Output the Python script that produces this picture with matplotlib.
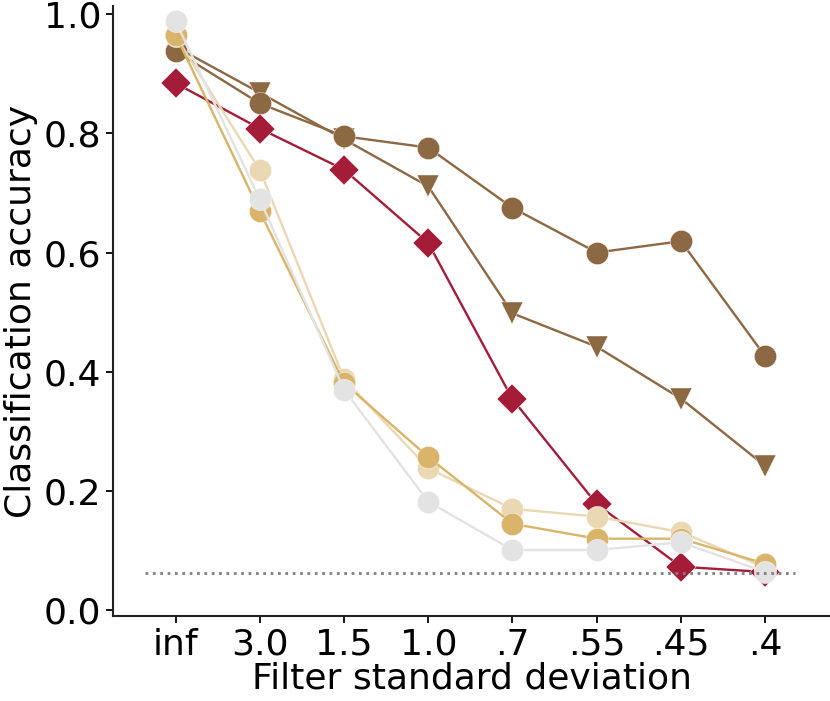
import numpy as np
import matplotlib
matplotlib.use("Agg")
import matplotlib.pyplot as plt

sigmas = ["inf", "3.0", "1.5", "1.0", ".7", ".55", ".45", ".4"]

brown_circ = [0.938, 0.850, 0.795, 0.776, 0.675, 0.600, 0.619, 0.426]
brown_tri = [0.945, 0.868, 0.790, 0.711, 0.498, 0.442, 0.355, 0.242]
red_diam = [0.884, 0.808, 0.739, 0.616, 0.354, 0.178, 0.073, 0.064]
tan_circ = [0.963, 0.738, 0.388, 0.238, 0.170, 0.157, 0.131, 0.072]
gold_circ = [0.965, 0.669, 0.381, 0.257, 0.145, 0.120, 0.120, 0.078]
gray_circ = [0.988, 0.689, 0.370, 0.182, 0.101, 0.101, 0.114, 0.064]
chance = 1 / 16

plt.rcParams['font.family'] = ['DejaVu Sans']
plt.rcParams['font.size'] = 26

fig = plt.figure(figsize=(8.3, 7.01), dpi=100)
ax = fig.add_axes([0.1365, 0.121, 0.8635, 0.870])

x = np.arange(len(sigmas))
brown = '#8c6843'
red = '#a51c38'
gold = '#d9b46a'
tan = '#ead8b3'
gray = '#e3e3e3'

style = dict(lw=1.7, mec='white', mew=0.3)
ax.plot(x, brown_tri, '-v', color=brown, ms=16, zorder=2, **style)
ax.plot(x, brown_circ, '-o', color=brown, ms=16, zorder=3, **style)
ax.plot(x, red_diam, '-D', color=red, ms=15, zorder=4, **style)
ax.plot(x, tan_circ, '-o', color=tan, ms=16, zorder=5, **style)
ax.plot(x, gold_circ, '-o', color=gold, ms=16, zorder=6, **style)
ax.plot(x, gray_circ, '-o', color=gray, ms=16, zorder=7, **style)

ax.hlines(chance, -0.36, 7.36, colors='gray', linestyles=':', lw=2, zorder=8)

ax.set_xticks(x)
ax.set_xticklabels(sigmas)
ax.set_xlim(-0.74, 7.77)
ax.set_ylim(-0.01, 1.013)
ax.set_yticks([0.0, 0.2, 0.4, 0.6, 0.8, 1.0])
ax.set_xlabel("Filter standard deviation", labelpad=0)
ax.set_ylabel("Classification accuracy", labelpad=4)
ax.spines['top'].set_visible(False)
ax.spines['right'].set_visible(False)
for s in ['left', 'bottom']:
    ax.spines[s].set_linewidth(1.5)
    ax.spines[s].set_color('#222222')
ax.tick_params(width=1.3, length=5)

fig.savefig("out.png", dpi=100)
